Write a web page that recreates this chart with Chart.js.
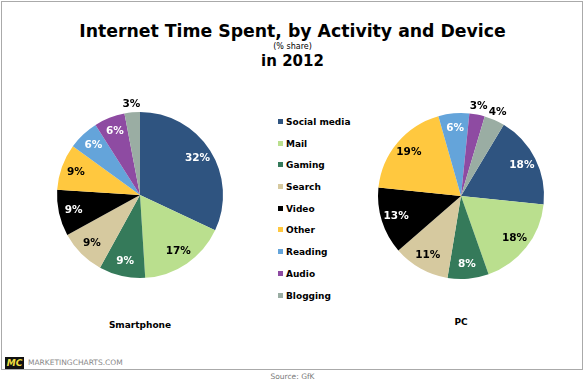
<!DOCTYPE html>
<html>
<head>
<meta charset="utf-8">
<script src="https://cdn.jsdelivr.net/npm/chart.js@4.4.0/dist/chart.umd.min.js"></script>
<style>
  body { margin: 0; width: 585px; height: 383px; background: #fff; font-family: "DejaVu Sans", Verdana, sans-serif; position: relative; overflow: hidden; }
  #frame { position: absolute; left: 1px; top: 1px; width: 580px; height: 367px; border: 1px solid #aaa; }
  .t { position: absolute; left: 0; width: 585px; text-align: center; color: #000; font-weight: bold; }
  #title { top: 21px; font-size: 17.3px; }
  #sub { top: 42px; font-size: 8px; font-weight: normal; }
  #year { top: 52px; font-size: 15px; }
  .cw { position: absolute; width: 220px; height: 220px; }
  #legend { position: absolute; left: 278px; top: 117px; font-size: 9px; font-weight: bold; }
  #legend div { height: 21.7px; white-space: nowrap; }
  #legend span { display: inline-block; width: 5px; height: 5px; margin-right: 3px; vertical-align: 1px; }
  .lab { position: absolute; font-size: 9px; font-weight: bold; transform: translateX(-50%); }
  #logo { position: absolute; left: 5px; top: 357px; width: 19px; height: 12px; background: #111; color: #f3e040; font-size: 9px; font-weight: bold; font-style: italic; text-align: center; line-height: 12px; }
  #mc { position: absolute; left: 28px; top: 358px; font-size: 7.5px; color: #888; }
  #src { position: absolute; left: 0; width: 585px; top: 372px; text-align: center; font-size: 7.5px; color: #777; }
</style>
</head>
<body>
<div id="frame"></div>
<div class="t" id="title">Internet Time Spent, by Activity and Device</div>
<div class="t" id="sub">(% share)</div>
<div class="t" id="year">in 2012</div>
<div class="cw" style="left:30px;top:85px"><canvas id="c1" width="220" height="220"></canvas></div>
<div class="cw" style="left:351px;top:86px"><canvas id="c2" width="220" height="220"></canvas></div>
<div id="legend"></div>
<div class="lab" style="left:140px;top:320px">Smartphone</div>
<div class="lab" style="left:461px;top:317px">PC</div>
<div id="logo">MC</div>
<div id="mc">MARKETINGCHARTS.COM</div>
<div id="src">Source: GfK</div>
<script>
const categories = ['Social media', 'Mail', 'Gaming', 'Search', 'Video', 'Other', 'Reading', 'Audio', 'Blogging'];
const smartphone = [32, 17, 9, 9, 9, 9, 6, 6, 3];
const pc = [18, 18, 8, 11, 13, 19, 6, 3, 4];
const colors = ['#2f5480', '#badf8e', '#357a5a', '#d6c99f', '#000000', '#ffc83f', '#64a4da', '#8e4ba2', '#9aada3'];
const labelColors = ['#fff', '#000', '#fff', '#000', '#fff', '#000', '#fff', '#fff', '#000'];

const legend = document.getElementById('legend');
categories.forEach((c, i) => {
  const d = document.createElement('div');
  d.innerHTML = '<span style="background:' + colors[i] + '"></span>' + c;
  legend.appendChild(d);
});

// draws the percent labels inside slices (small ones outside)
const pctLabels = {
  id: 'pctLabels',
  afterDatasetsDraw(chart) {
    const ctx = chart.ctx;
    const data = chart.data.datasets[0].data;
    ctx.save();
    ctx.font = 'bold 10.5px "DejaVu Sans", Verdana, sans-serif';
    ctx.textAlign = 'center';
    ctx.textBaseline = 'middle';
    chart.getDatasetMeta(0).data.forEach((arc, i) => {
      const p = arc.getProps(['x', 'y', 'startAngle', 'endAngle', 'outerRadius'], true);
      const mid = (p.startAngle + p.endAngle) / 2;
      const outside = data[i] < 5;
      const r = outside ? p.outerRadius + 8 : p.outerRadius * 0.82;
      ctx.fillStyle = outside ? '#000' : labelColors[i];
      ctx.fillText(data[i] + '%', p.x + Math.cos(mid) * r, p.y + Math.sin(mid) * r);
    });
    ctx.restore();
  }
};

function makePie(id, values, rotation) {
  new Chart(document.getElementById(id), {
    type: 'pie',
    data: {
      labels: categories,
      datasets: [{ data: values, backgroundColor: colors, borderWidth: 0 }]
    },
    options: {
      responsive: false,
      animation: false,
      rotation: rotation,
      layout: { padding: 27 },
      plugins: { legend: { display: false }, tooltip: { enabled: false } }
    },
    plugins: [pctLabels]
  });
}

makePie('c1', smartphone, 0);
makePie('c2', pc, 31);
</script>
</body>
</html>
